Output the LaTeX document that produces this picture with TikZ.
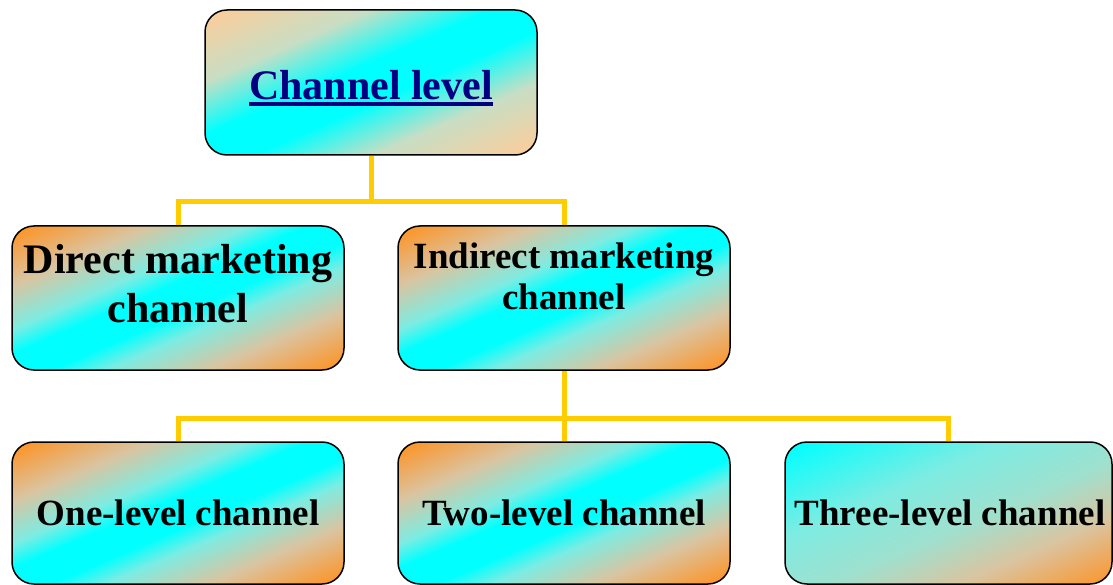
\documentclass[tikz,border=0pt]{standalone}
\usepackage{fontspec}
\setmainfont{Liberation Serif}
\usetikzlibrary{backgrounds}
\definecolor{orng}{RGB}{250,152,50}
\definecolor{tan}{RGB}{218,196,160}
\definecolor{lcyn}{RGB}{125,236,226}
\definecolor{peach}{RGB}{248,206,158}
\definecolor{lpeach}{RGB}{200,222,196}
\definecolor{cyn}{RGB}{0,255,255}
\definecolor{mteal}{RGB}{160,224,206}
\definecolor{conn}{RGB}{255,204,0}
\definecolor{navyt}{RGB}{0,0,128}
\pgfdeclarehorizontalshading{pcp}{100bp}{color(0bp)=(peach); color(17bp)=(peach); color(32bp)=(lpeach); color(45bp)=(cyn); color(55bp)=(cyn); color(68bp)=(lpeach); color(83bp)=(peach); color(100bp)=(peach)}
\pgfdeclarehorizontalshading{oco}{100bp}{color(0bp)=(orng); color(17bp)=(orng); color(29bp)=(tan); color(40bp)=(lcyn); color(46bp)=(cyn); color(54bp)=(cyn); color(60bp)=(lcyn); color(71bp)=(tan); color(83bp)=(orng); color(100bp)=(orng)}
\pgfdeclarehorizontalshading{co}{100bp}{color(0bp)=(cyn); color(16bp)=(cyn); color(38bp)=(lcyn); color(55bp)=(mteal); color(69bp)=(tan); color(84bp)=(orng); color(100bp)=(orng)}
\newcommand\myul[1]{\setbox0\hbox{#1}\rlap{\rule[-6pt]{\wd0}{3.5pt}}\box0}
% shaded rounded box: shading, cx, cy, w, h
\newcommand\shbox[5]{%
  \begin{scope}
    \clip[rounded corners=22pt] ({#2-#4/2},{#3-#5/2}) rectangle ({#2+#4/2},{#3+#5/2});
    \begin{scope}[transform canvas={shift={(#2,#3)}}]
      \begin{scope}[transform canvas={xscale=#4/#5}]
        \shade[shading=#1, shading angle=-45] ({-#5/2},{-#5/2}) rectangle ({#5/2},{#5/2});
      \end{scope}
    \end{scope}
  \end{scope}}
\tikzset{
  box/.style={draw=black, line width=1.5pt, rounded corners=22pt, minimum width=332pt,
    minimum height=144pt, inner sep=0pt},
  big/.style={font=\fontsize{42}{48}\selectfont\bfseries, inner sep=0pt, anchor=base, text=black},
  small/.style={font=\fontsize{37}{42}\selectfont\bfseries, inner sep=0pt, anchor=base, text=black},
  link/.style={draw=conn, line width=5pt}
}
\begin{document}
\begin{tikzpicture}[x=1pt,y=-1pt]
\useasboundingbox (0,0) rectangle (1113,585);
\shbox{pcp}{371}{82.5}{332}{145}
\shbox{oco}{178}{298}{332}{144}
\shbox{oco}{564}{298}{332}{144}
\shbox{oco}{178}{513}{332}{142}
\shbox{oco}{564}{513}{332}{142}
\shbox{co}{948.5}{513}{327}{142}
\node[box, minimum height=145pt] (top) at (371,82.5) {};
\node[box] (direct) at (178,298) {};
\node[box] (indirect) at (564,298) {};
\node[box, minimum height=142pt] (one) at (178,513) {};
\node[box, minimum height=142pt] (two) at (564,513) {};
\node[box, minimum height=142pt, minimum width=327pt] (three) at (948.5,513) {};
\node[big] (topt) at (371,100) {\textcolor{navyt}{\myul{Channel level}}};
\node[big] (direct1) at (178,273) {Direct marketing};
\node[big] (direct2) at (178,322) {channel};
\node[small] (indirect1) at (564,269) {Indirect marketing};
\node[small] (indirect2) at (564,309) {channel};
\node[small] (onet) at (178,525) {One-level channel};
\node[small] (twot) at (564,525) {Two-level channel};
\node[small] (threet) at (950,525) {Three-level channel};
\coordinate (bar1) at (371,202);
\coordinate (bar2) at (564,418);
\begin{pgfonlayer}{background}
\draw[link] (top.south) -- (bar1);
\draw[link] (bar1) -| (direct.north);
\draw[link] (bar1) -| (indirect.north);
\draw[link] (indirect.south) -- (bar2);
\draw[link] (bar2) -| (one.north);
\draw[link] (bar2) -- (two.north);
\draw[link] (bar2) -| (three.north);
\end{pgfonlayer}
\end{tikzpicture}
\end{document}
